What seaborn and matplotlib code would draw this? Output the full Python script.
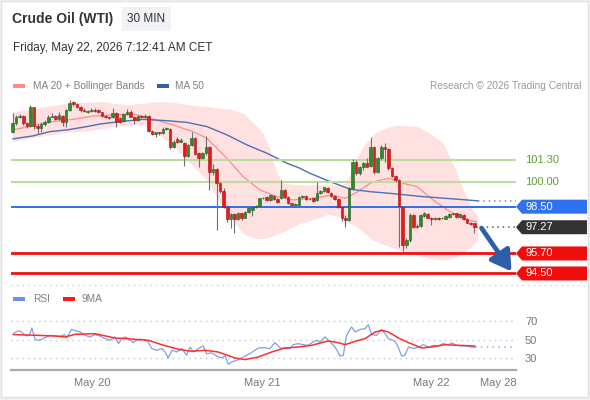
import matplotlib
matplotlib.use("Agg")
import matplotlib.pyplot as plt
from matplotlib.patches import Rectangle, Polygon
from matplotlib.transforms import IdentityTransform
import numpy as np
import pandas as pd
import seaborn as sns

# ---------------- data ----------------
title = "Crude Oil (WTI)"
timeframe = "30 MIN"
timestamp = "Friday, May 22, 2026 7:12:41 AM CET"
legend_price = ["MA 20 + Bollinger Bands", "MA 50"]
legend_rsi = ["RSI", "9MA"]
credit = "Research © 2026 Trading Central"

opens = [103.0, 103.5, 103.85, 103.95, 103.5, 103.35, 104.45, 103.35, 103.2, 103.45,
         103.6, 103.9, 103.95, 103.75, 103.95, 103.55, 104.3, 104.75, 104.65, 104.5,
         104.3, 104.2, 104.22, 104.3, 104.3, 104.15, 103.95, 103.88, 103.85, 104.1,
         103.8, 103.65, 104.05, 104.2, 103.9, 103.7, 103.95, 103.85, 103.95, 103.05,
         102.85, 102.95, 102.9, 103.15, 103.15, 102.05, 102.55, 102.4, 102.3, 101.55,
         102.2, 102.6, 101.7, 101.4, 101.7, 102.1, 100.6, 100.75, 99.9, 99.45,
         98.5, 97.75, 98.05, 97.75, 98.1, 97.85, 98.2, 98.3, 98.5, 98.55,
         99.0, 99.1, 98.9, 99.15, 98.95, 99.0, 99.5, 99.1, 98.7, 98.6,
         98.6, 99.1, 99.15, 98.95, 99.0, 98.9, 99.3, 99.45, 99.6, 99.35,
         99.15, 98.95, 98.5, 97.85, 97.7, 99.6, 101.2, 100.5, 100.85, 101.1,
         100.95, 102.1, 100.55, 101.4, 102.1, 101.95, 100.8, 100.35, 100.1, 98.5,
         96.2, 96.5, 98.0, 97.35, 97.35, 97.95, 98.05, 97.85, 97.75, 97.85,
         97.8, 97.78, 97.9, 98.05, 98.1, 97.9, 98.0, 97.75, 97.55, 97.5]
highs = [104.1, 104.0, 104.05, 104.0, 103.6, 104.6, 104.5, 103.45, 103.55, 103.7,
         104.0, 104.1, 104.0, 104.15, 104.0, 104.35, 104.9, 104.85, 104.7, 104.55,
         104.4, 104.3, 104.4, 104.4, 104.35, 104.2, 104.0, 103.95, 104.4, 104.15,
         103.9, 104.1, 104.35, 104.3, 103.95, 104.0, 104.0, 104.05, 104.0, 103.1,
         103.0, 103.0, 103.3, 103.3, 103.2, 102.5, 102.7, 102.6, 102.35, 102.25,
         102.95, 102.65, 101.75, 101.8, 102.75, 102.15, 101.05, 100.8, 99.95, 99.6,
         98.6, 98.1, 98.1, 98.2, 98.15, 98.25, 98.5, 98.55, 98.6, 99.05,
         99.1, 99.15, 99.25, 99.2, 99.0, 100.1, 99.55, 99.15, 98.75, 98.7,
         99.15, 99.2, 99.2, 99.05, 99.05, 100.0, 99.5, 99.7, 99.65, 99.4,
         99.2, 99.0, 98.55, 98.0, 99.65, 101.35, 101.3, 100.95, 101.2, 101.4,
         102.7, 102.15, 101.5, 102.2, 102.3, 102.0, 100.85, 100.4, 100.15, 98.55,
         96.65, 98.1, 98.05, 97.45, 98.05, 98.2, 98.1, 97.9, 97.9, 97.9,
         97.88, 98.0, 98.15, 98.15, 98.15, 98.1, 98.05, 97.8, 97.6, 97.55]
lows = [102.9, 103.4, 103.8, 103.4, 103.2, 103.3, 103.15, 102.85, 102.95, 103.35,
        103.5, 103.85, 103.7, 103.7, 103.35, 103.25, 104.25, 104.55, 104.4, 104.2,
        104.15, 104.1, 104.15, 104.15, 104.1, 103.9, 103.8, 103.75, 103.8, 103.3,
        103.5, 103.6, 104.0, 103.85, 103.45, 103.65, 103.8, 103.8, 102.95, 102.8,
        102.7, 102.8, 102.85, 103.1, 101.95, 102.0, 102.3, 102.35, 100.95, 101.5,
        102.15, 101.6, 100.85, 101.35, 101.6, 99.5, 100.4, 97.1, 99.3, 98.4,
        97.6, 97.2, 96.95, 97.7, 97.7, 97.8, 98.15, 97.95, 98.45, 98.5,
        98.95, 98.85, 98.85, 98.9, 98.75, 98.95, 99.05, 98.65, 98.55, 98.55,
        98.55, 99.05, 98.9, 98.9, 98.8, 98.85, 99.25, 99.4, 99.35, 99.1,
        98.9, 98.45, 97.65, 97.3, 97.65, 99.5, 100.4, 100.4, 100.7, 100.85,
        100.9, 100.45, 100.5, 101.3, 101.2, 100.7, 100.3, 100.0, 96.1, 95.85,
        96.0, 96.4, 97.2, 97.2, 97.3, 97.9, 97.8, 97.4, 97.7, 97.72,
        97.75, 97.75, 97.85, 98.0, 97.85, 97.85, 97.7, 97.5, 97.4, 96.95]
closes = [103.5, 103.85, 103.95, 103.5, 103.35, 104.45, 103.35, 103.2, 103.45, 103.6,
          103.9, 103.95, 103.75, 104.0, 103.55, 104.3, 104.7, 104.65, 104.5, 104.3,
          104.25, 104.2, 104.3, 104.25, 104.15, 103.95, 103.85, 103.83, 104.1, 103.6,
          103.6, 104.05, 104.2, 103.9, 103.7, 103.95, 103.85, 103.95, 103.05, 102.85,
          102.95, 102.9, 103.15, 103.2, 102.05, 102.4, 102.4, 102.5, 101.55, 102.2,
          102.6, 101.65, 101.4, 101.7, 102.1, 100.6, 100.75, 99.9, 99.45, 98.5,
          97.75, 98.05, 97.75, 98.1, 97.85, 98.2, 98.45, 98.5, 98.55, 99.0,
          99.02, 98.9, 99.2, 98.95, 98.8, 99.5, 99.1, 98.7, 98.6, 98.62,
          99.1, 99.12, 98.95, 98.97, 98.85, 99.3, 99.45, 99.65, 99.4, 99.15,
          98.95, 98.5, 97.8, 97.7, 99.6, 101.2, 100.5, 100.85, 101.1, 100.9,
          102.1, 100.55, 101.4, 102.1, 101.95, 100.8, 100.35, 100.1, 98.55, 96.2,
          96.5, 98.0, 97.3, 97.28, 98.0, 98.1, 97.85, 97.75, 97.85, 97.78,
          97.82, 97.95, 98.08, 98.1, 97.9, 98.05, 97.75, 97.55, 97.45, 97.27]

band_x = [0.1, 5.7, 10.5, 15.2, 20.8, 24.4, 28.1, 32.0, 36.5, 40.4, 44.8, 49.6, 54.3,
          58.0, 60.8, 64.4, 66.3, 68.3, 70.0, 71.9, 73.9, 75.6, 80.3, 85.1, 88.1, 91.5,
          92.9, 94.3, 96.2, 97.9, 100.7, 101.8, 105.4, 108.2, 113.0, 116.6, 120.3,
          123.6, 126.4, 128.6, 130.0]
band_upper = [104.2, 104.35, 104.55, 104.7, 104.75, 104.8, 104.7, 104.6, 104.7, 104.8,
              104.75, 104.6, 104.5, 104.4, 104.35, 104.1, 103.7, 103.3, 102.9, 101.9,
              100.5, 99.9, 99.8, 99.8, 99.8, 99.8, 99.9, 100.5, 101.4, 102.1, 102.8,
              103.0, 103.3, 103.4, 103.3, 102.9, 102.3, 100.8, 99.3, 98.3, 97.9]
band_lower = [102.4, 102.65, 102.8, 102.95, 103.05, 103.15, 103.3, 103.4, 103.4, 102.9,
              102.2, 101.1, 100.1, 98.7, 97.9, 96.9, 96.7, 96.6, 96.6, 96.7,
              96.85, 97.0, 97.5, 97.8, 98.05, 97.9, 97.7, 97.5, 97.3, 97.0, 96.5,
              96.4, 96.1, 95.9, 95.6, 95.4, 95.3, 95.45, 95.8, 96.2, 96.5]
ma20_x = [0.1, 5.7, 11.3, 16.9, 22.5, 28.1, 33.7, 38.4, 44.8, 50.4, 54.3, 59.9, 64.4,
          69.1, 73.9, 78.4, 83.7, 89.2, 92.9, 96.5, 99.9, 102.7, 105.4, 108.2, 113.0,
          117.5, 122.2, 127.0, 129.7]
ma20 = [103.1, 103.35, 103.6, 103.73, 103.93, 104.0, 104.05, 103.8, 103.4, 103.0,
        102.6, 101.4, 100.3, 99.5, 99.1, 98.9, 99.0, 99.2, 99.0, 99.4, 99.9, 100.1,
        100.2, 99.95, 99.7, 98.9, 98.2, 97.7, 97.6]
ma50_x = [0.1, 5.7, 10.5, 15.2, 20.8, 24.4, 30.0, 36.5, 43.2, 48.7, 54.3, 59.9, 65.5,
          71.1, 76.7, 80.3, 83.1, 88.7, 94.3, 99.9, 105.4, 114.7, 124.2, 130.0]
ma50 = [102.56, 102.74, 103.0, 103.1, 103.3, 103.45, 103.6, 103.73, 103.65, 103.55,
        103.3, 102.8, 102.2, 101.7, 101.1, 100.8, 100.5, 100.0, 99.55, 99.4, 99.3,
        99.1, 98.95, 98.85]

resistance_levels = [101.30, 100.00]
pivot_level = 98.50
support_levels = [95.70, 94.50]
last_price = 97.27

rsi_x = [0.2, 1.2, 2.1, 3.0, 4.0, 4.9, 5.4, 6.3, 7.2, 8.2, 9.5, 10.5, 11.9, 13.3, 14.5,
         15.1, 16.5, 17.9, 18.9, 20.3, 21.7, 23.0, 24.4, 25.8, 27.2, 28.6, 29.6, 30.5,
         31.4, 32.8, 33.7, 34.7, 35.6, 37.0, 37.9, 38.9, 40.3, 41.7, 42.6, 43.5, 44.5,
         45.9, 47.3, 48.6, 49.6, 50.5, 51.9, 53.3, 54.2, 55.6, 57.0, 58.4, 59.4, 60.3,
         61.2, 62.6, 64.0, 65.4, 66.3, 67.7, 68.7, 70.5, 71.9, 73.3, 74.7, 76.1, 77.5,
         78.4, 79.8, 81.2, 82.6, 84.0, 85.0, 85.9, 87.3, 88.7, 90.1, 91.5, 92.4, 93.3,
         94.7, 95.7, 97.1, 98.5, 99.4, 100.3, 101.7, 103.1, 104.1, 105.0, 106.4, 107.3,
         108.7, 109.6, 110.6, 112.0, 113.4, 114.8, 116.2, 117.6, 119.0, 120.3, 121.7,
         122.7, 124.1, 125.5, 126.9, 128.3, 129.2]
rsi = [56.4, 58.9, 59.3, 56.4, 53.9, 56.4, 62.5, 50.4, 49.3, 50.4, 52.9, 54.6, 53.9, 53.6,
       55.4, 51.8, 61.0, 59.3, 58.2, 54.6, 52.9, 55.4, 53.9, 51.1, 49.3, 52.9, 45.7, 51.1,
       52.9, 50.4, 46.8, 49.3, 50.4, 50.0, 47.5, 40.4, 38.6, 40.4, 36.8, 30.4, 38.6, 36.8,
       40.4, 33.2, 42.1, 36.8, 40.4, 43.2, 34.9, 35.9, 32.4, 30.4, 32.5, 23.5, 26.1, 27.9,
       30.4, 33.2, 35.0, 38.6, 41.1, 41.4, 40.4, 46.8, 41.4, 40.4, 40.4, 44.6, 45.7, 44.6,
       43.9, 47.5, 49.3, 47.5, 52.9, 47.5, 42.1, 32.5, 33.2, 54.6, 63.6, 58.2, 61.0, 61.8,
       66.0, 55.4, 54.6, 61.0, 56.4, 51.1, 49.3, 45.7, 32.5, 33.2, 42.1, 40.4, 42.1, 44.6,
       42.1, 43.9, 43.2, 45.7, 44.6, 46.4, 43.9, 43.2, 43.2, 42.1, 41.8]
rsi_ma_x = [0.2, 7.2, 11.9, 14.7, 17.5, 23.0, 28.6, 34.2, 37.9, 41.7, 46.4, 50.0, 53.7,
            57.4, 62.1, 64.9, 68.7, 72.4, 76.1, 79.8, 83.5, 88.2, 91.0, 92.9, 95.7, 98.5,
            101.3, 103.1, 105.0, 107.8, 110.6, 114.3, 117.1, 120.8, 124.5, 129.2]
rsi_ma = [55.4, 54.6, 53.9, 52.9, 55.7, 56.4, 51.8, 50.4, 49.3, 44.6, 39.6, 37.5, 38.6,
          36.8, 30.4, 28.6, 31.4, 36.8, 41.1, 42.1, 43.9, 48.6, 46.8, 44.6, 48.2, 51.1,
          58.2, 60.0, 58.2, 51.8, 46.8, 41.1, 42.1, 44.6, 43.9, 43.2]
rsi_levels = [70, 50, 30]

date_tick_pos = [22.2, 69.7, 116.9, 135.6]
date_tick_labels = ["May 20", "May 21", "May 22", "May 28"]

# ---------------- figure ----------------
sns.set_style("white")
plt.rcParams["font.family"] = ["Liberation Sans", "DejaVu Sans"]

W, H = 590, 400
fig = plt.figure(figsize=(W / 100, H / 100), dpi=100)
fig.patch.set_facecolor("#f1f1f1")


def px_rect(x0, y0, x1, y1):
    return [x0 / W, 1 - y1 / H, (x1 - x0) / W, (y1 - y0) / H]


def fx(x):
    return x / W


def fy(y):
    return 1 - y / H


# card background (drawn beneath everything)
fig.patches.append(Rectangle((fx(1), fy(397)), 587 / W, 396 / H, transform=fig.transFigure,
                             facecolor="white", edgecolor="#e2e2e2", lw=1, zorder=-5))

ax = fig.add_axes(px_rect(11, 95, 516, 285))
axr = fig.add_axes(px_rect(11, 305, 516, 370))
for a in (ax, axr):
    a.set_facecolor("none")

XL, XR = -0.42, 140.64
ax.set_xlim(XL, XR)
ax.set_ylim(93.81, 105.19)
axr.set_xlim(XL, XR)
axr.set_ylim(17.45, 87.16)

df = pd.DataFrame({"open": opens, "high": highs, "low": lows, "close": closes})
df["idx"] = np.arange(len(df))
up = df["close"] >= df["open"]
body_bot = np.minimum(df["open"], df["close"])
body_h = np.maximum((df["close"] - df["open"]).abs(), 0.035)

# Bollinger band + moving averages
ax.fill_between(band_x, band_lower, band_upper, color="#ffe1e1", lw=0, zorder=1)
sns.lineplot(x=ma20_x, y=ma20, ax=ax, color="#ff8a8a", lw=0.9, sort=False,
             estimator=None, zorder=2)
sns.lineplot(x=ma50_x, y=ma50, ax=ax, color="#4c70b3", lw=1.0, sort=False,
             estimator=None, zorder=2)
ax.plot([ma50_x[-1], XR], [ma50[-1], ma50[-1]], color="#6f8fcc", lw=1.1,
        ls=(0, (1, 2.5)), zorder=2)

# levels
for lv in resistance_levels:
    ax.axhline(lv, color="#bddd9f", lw=1.5, zorder=2)
ax.axhline(pivot_level, color="#2f6fea", lw=1.4, zorder=2)
for lv in support_levels:
    ax.axhline(lv, color="#ee1111", lw=2.0, zorder=2)

# candles
ax.vlines(df["idx"], df["low"], df["high"], color="#707070", lw=0.8, zorder=3)
ax.bar(df["idx"][up], body_h[up], bottom=body_bot[up], width=0.72, color="#2f8a2f",
       edgecolor="#1e5e1e", lw=0.4, zorder=4)
ax.bar(df["idx"][~up], body_h[~up], bottom=body_bot[~up], width=0.72, color="#e8191b",
       edgecolor="#a81010", lw=0.4, zorder=4)

n = len(df)
ax.plot([n - 0.5, XR], [last_price, last_price], color="#555555", lw=1.1,
        ls=(0, (1, 2.5)), zorder=2)

# forecast arrow toward lowest support
ax.annotate("", xy=(XR - 1.25, support_levels[-1] + 0.12), xytext=(n + 1.0, last_price - 0.05),
            arrowprops=dict(arrowstyle="-|>,head_length=0.75,head_width=0.45", lw=3.4,
                            color="#2d5fa8", mutation_scale=16, shrinkA=0, shrinkB=0),
            zorder=6, annotation_clip=False)

ax.set_xticks([])
ax.set_yticks([])
for s in ax.spines.values():
    s.set_visible(False)

# RSI panel
for lv in rsi_levels:
    axr.axhline(lv, color="#c4c4c4", lw=1.0, ls=(0, (1, 3)), zorder=1)
sns.lineplot(x=rsi_x, y=rsi, ax=axr, color="#7f9fe8", lw=0.9, sort=False,
             estimator=None, zorder=3)
sns.lineplot(x=rsi_ma_x, y=rsi_ma, ax=axr, color="#ff2e2e", lw=1.1, sort=False,
             estimator=None, zorder=4)
axr.plot([rsi_x[-1], XR], [rsi[-1], rsi[-1]], color="#9fb6ee", lw=1.2,
         ls=(0, (1, 2.5)), zorder=2)

for s in ("top", "left", "right"):
    axr.spines[s].set_visible(False)
axr.spines["bottom"].set_color("#ababab")
axr.spines["bottom"].set_linewidth(1.6)
axr.yaxis.tick_right()
axr.set_yticks(rsi_levels)
axr.set_yticklabels([str(v) for v in rsi_levels])
axr.tick_params(axis="y", length=0, pad=6.5, labelsize=8, labelcolor="#777777")
axr.set_xticks(date_tick_pos)
axr.set_xticklabels(date_tick_labels)
axr.tick_params(axis="x", which="major", length=0, pad=5.5, labelsize=8,
                labelcolor="#777777")
axr.set_xticks([XL, XR], minor=True)
axr.tick_params(axis="x", which="minor", length=5, width=1.5, color="#ababab",
                direction="out")
axr.set_xlabel("")
axr.set_ylabel("")
ax.set_xlabel("")
ax.set_ylabel("")

# separator dotted line
fig.lines.append(plt.Line2D([fx(11), fx(586)], [fy(285), fy(285)], transform=fig.transFigure,
                            color="#d2d2d2", lw=1, ls=(0, (1, 3))))

# ---------------- header ----------------
fig.text(fx(12), fy(19), title, fontsize=10, fontweight="bold", color="#333333", va="center")
fig.patches.append(Rectangle((fx(122), fy(31)), 49 / W, 24 / H, transform=fig.transFigure,
                             facecolor="#f0f2f5", edgecolor="none", zorder=-4))
fig.text(fx(146.5), fy(19), timeframe, fontsize=8.5, color="#333333", va="center", ha="center")
fig.text(fx(13), fy(48.5), timestamp, fontsize=8.5, color="#333333", va="center")

# legends
fig.patches.append(Rectangle((fx(13), fy(88)), 12 / W, 4 / H, transform=fig.transFigure,
                             facecolor="#ff8a8a", edgecolor="none"))
fig.text(fx(33), fy(86), legend_price[0], fontsize=7.3, color="#808080", va="center")
fig.patches.append(Rectangle((fx(157), fy(88)), 12 / W, 4 / H, transform=fig.transFigure,
                             facecolor="#345fa0", edgecolor="none"))
fig.text(fx(175.5), fy(86), legend_price[1], fontsize=7.3, color="#808080", va="center")
fig.text(fx(581), fy(86), credit, fontsize=7.3, color="#9a9a9a", va="center", ha="right")

fig.patches.append(Rectangle((fx(13), fy(301)), 12 / W, 4 / H, transform=fig.transFigure,
                             facecolor="#6f8fe0", edgecolor="none"))
fig.text(fx(33), fy(299), legend_rsi[0], fontsize=7.3, color="#808080", va="center")
fig.patches.append(Rectangle((fx(62.5), fy(301)), 12 / W, 4 / H, transform=fig.transFigure,
                             facecolor="#ff1a1a", edgecolor="none"))
fig.text(fx(82), fy(299), legend_rsi[1], fontsize=7.3, color="#808080", va="center")

# ---------------- right-hand price tags ----------------
def disp_y(v):
    return ax.transData.transform((0, v))[1]


for lv in resistance_levels:
    fig.text(fx(525), disp_y(lv) / H, f"{lv:.2f}", fontsize=8, color="#5aa02c", va="center")

tags = [(pivot_level, "#2f72f0"), (last_price, "#333333"),
        (support_levels[0], "#f20d0d"), (support_levels[1], "#f20d0d")]
for val, col in tags:
    yc = disp_y(val)
    hh = 7
    poly = Polygon([(516, yc), (522, yc + hh), (587, yc + hh), (587, yc - hh), (522, yc - hh)],
                   closed=True, transform=IdentityTransform(), facecolor=col, edgecolor="none",
                   zorder=10)
    fig.patches.append(poly)
    fig.text(fx(525), yc / H, f"{val:.2f}", fontsize=8, color="white", va="center", zorder=11)

fig.savefig("out.png", dpi=100)
